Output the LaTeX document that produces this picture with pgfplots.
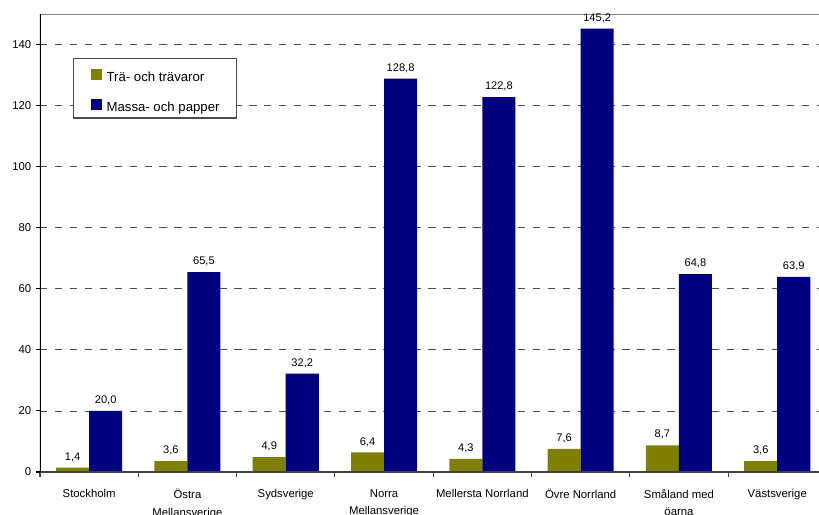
\documentclass[border=0pt]{standalone}
\usepackage{pgfplots}
\pgfplotsset{compat=1.18}
\usepackage{fontspec}
\setmainfont{Liberation Sans}
\definecolor{olivebar}{RGB}{128,128,0}
\definecolor{navybar}{RGB}{0,0,128}

% Export value (index) per region, two product groups
\pgfplotstableread{
x  tra   massa
0  1.4   20.0
1  3.6   65.5
2  4.9   32.2
3  6.4   128.8
4  4.3   122.8
5  7.6   145.2
6  8.7   64.8
7  3.6   63.9
}\regiondata

\begin{document}
\begin{tikzpicture}
\begin{axis}[
  scale only axis,
  width=589.8pt, height=343.5pt,
  xmin=-0.5, xmax=7.5, ymin=0, ymax=150,
  axis line style={draw=none},
  tick pos=left,
  xtick={0,...,7},
  xticklabels={Stockholm, {Östra\\Mellansverige}, Sydsverige, {Norra\\Mellansverige}, Mellersta Norrland, Övre Norrland, {Småland med\\öarna}, Västsverige},
  xticklabel style={align=center, font=\fontsize{8.5}{13}\selectfont, yshift=-6.5pt},
  major x tick style={draw=none},
  minor xtick={-0.5,0.5,...,7.5},
  minor x tick style={black!75, line width=0.8pt},
  ytick={0,20,...,140},
  yticklabel style={font=\fontsize{8.5}{10}\selectfont},
  major y tick style={black, line width=0.8pt},
  tick align=outside,
  major tick length=3pt,
  minor tick length=3.5pt,
  ymajorgrids,
  grid style={black!70, dash pattern=on 5.6pt off 5.6pt, line width=0.6pt},
  /pgf/number format/assume math mode=true,
  ybar, bar width=0.336,
  nodes near coords={\pgfmathprintnumber[fixed,fixed zerofill,precision=1,use comma,assume math mode=true]{\pgfplotspointmeta}},
  every node near coord/.append style={font=\fontsize{8.3}{10}\selectfont, black, yshift=1pt},
  legend style={at={(0.042,0.904)}, anchor=north west, draw=black!70, line width=0.8pt, fill=white,
    font=\fontsize{9.9}{12}\selectfont, inner xsep=13pt, inner ysep=5pt, row sep=10.5pt,
    nodes={inner sep=0pt, text height=9.75pt, text depth=0pt}},
  legend cell align=left,
  legend image code/.code={\path[draw=none, fill=none] (0pt,-0.8pt) rectangle (11.75pt,7.2pt);
    \fill[#1, overlay] (0pt,-3.8pt) rectangle (8pt,4.2pt);},
]
\addplot[fill=olivebar, draw=none, bar shift=-0.168] table[x=x, y=tra] {\regiondata};
\addlegendentry{Trä- och trävaror}
\addplot[fill=navybar, draw=none, bar shift=0.168] table[x=x, y=massa] {\regiondata};
\addlegendentry{Massa- och papper}

% frame of the plot area
\draw[black!50, line width=0.9pt] (rel axis cs:0,1) -- (rel axis cs:1,1);
\draw[black!75, line width=1pt] (rel axis cs:0,0) -- (rel axis cs:1,0);
\draw[black, line width=0.9pt] (rel axis cs:0,0) -- (rel axis cs:0,1);
\coordinate (ll) at (rel axis cs:0,0);
\end{axis}
\pgfresetboundingbox
\path ([shift={(-30pt,-32.25pt)}]ll) rectangle ++(614.25pt,386.25pt);
\end{tikzpicture}
\end{document}
